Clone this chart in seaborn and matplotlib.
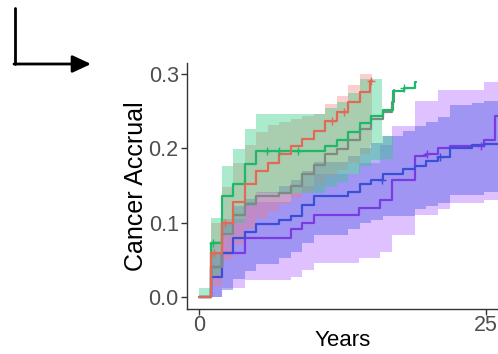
import numpy as np
import matplotlib
matplotlib.use("Agg")
import matplotlib.pyplot as plt
from matplotlib.lines import Line2D
from matplotlib.patches import FancyArrowPatch
import seaborn as sns

# ---------------- data ----------------
red_t = [0, 1, 2, 3, 4, 5, 6, 7, 8, 9, 10, 11, 12, 13, 14, 14.9, 15.05]
red_est = [0, 0.060, 0.100, 0.128, 0.152, 0.170, 0.181, 0.192, 0.203, 0.213, 0.224, 0.237, 0.249, 0.262, 0.276, 0.291, 0.291]
red_lo = [0, 0.015, 0.050, 0.072, 0.092, 0.106, 0.116, 0.125, 0.134, 0.142, 0.151, 0.161, 0.171, 0.181, 0.192, 0.205, 0.205]
red_hi = [0, 0.100, 0.148, 0.180, 0.205, 0.222, 0.232, 0.236, 0.240, 0.244, 0.246, 0.260, 0.271, 0.285, 0.300, 0.300, 0.300]
red_cens = [1.3, 2.3, 11.6, 12.6, 14.95]

green_t = [0, 1, 2, 3, 4, 5, 11, 12, 13, 14, 15, 16, 16.9, 17.9, 18.8, 18.9]
green_est = [0, 0.073, 0.136, 0.152, 0.179, 0.196, 0.203, 0.211, 0.222, 0.234, 0.244, 0.252, 0.277, 0.281, 0.290, 0.290]
green_band_t = [0, 1, 2, 3, 4, 5, 11, 12, 13, 14, 15, 15.9, 16.9]
green_lo = [0, 0.030, 0.085, 0.100, 0.122, 0.140, 0.148, 0.155, 0.165, 0.176, 0.185, 0.186, 0.186]
green_hi = [0.012, 0.106, 0.176, 0.199, 0.226, 0.246, 0.255, 0.262, 0.275, 0.294, 0.294, 0.217, 0.217]
green_cens = [1.2, 5.9, 7.0, 8.6, 17.9]

gray_t = [0, 1, 2, 3, 4, 5, 7, 8, 9, 10, 11, 12, 13, 14, 15, 16, 16.8, 17.0]
gray_est = [0, 0.041, 0.085, 0.110, 0.125, 0.136, 0.140, 0.150, 0.165, 0.178, 0.192, 0.199, 0.212, 0.226, 0.240, 0.249, 0.262, 0.278]

blue_t = [0, 1, 2, 3, 4, 5, 7, 8, 9, 10, 13, 14, 15, 16, 17.8, 18.8, 19.8, 20.8, 21.9, 23.75, 24.8, 26.5]
blue_est = [0, 0.027, 0.059, 0.079, 0.088, 0.098, 0.104, 0.109, 0.124, 0.136, 0.142, 0.152, 0.158, 0.165, 0.172, 0.177, 0.183, 0.188, 0.201, 0.204, 0.206, 0.206]
blue_lo = [0, 0.0, 0.010, 0.025, 0.035, 0.045, 0.052, 0.061, 0.073, 0.084, 0.091, 0.100, 0.104, 0.109, 0.109, 0.118, 0.122, 0.127, 0.138, 0.138, 0.142, 0.142]
blue_hi = [0, 0.060, 0.100, 0.122, 0.132, 0.142, 0.150, 0.158, 0.170, 0.182, 0.190, 0.200, 0.207, 0.217, 0.224, 0.230, 0.235, 0.242, 0.258, 0.261, 0.264, 0.264]
blue_cens = [15.9, 21.0]

purple_t = [0, 1, 2, 4, 8, 9, 10, 13.9, 15.8, 16.8, 18.8, 19.8, 20.8, 21.9, 24.8, 25.8, 26.5]
purple_est = [0, 0.041, 0.059, 0.080, 0.091, 0.100, 0.111, 0.120, 0.131, 0.158, 0.190, 0.192, 0.200, 0.203, 0.212, 0.244, 0.244]
purple_lo = [0, 0.0, 0.012, 0.023, 0.027, 0.036, 0.046, 0.052, 0.061, 0.084, 0.111, 0.111, 0.118, 0.127, 0.131, 0.131, 0.131]
purple_hi = [0, 0.075, 0.105, 0.128, 0.140, 0.150, 0.165, 0.180, 0.205, 0.230, 0.264, 0.264, 0.278, 0.278, 0.289, 0.289, 0.289]
purple_cens = [19.9, 24.6]

x_ticks = [0, 25]
y_ticks = [0.0, 0.1, 0.2, 0.3]
x_label = "Years"
y_label = "Cancer Accrual"

# ---------------- style ----------------
sns.set_theme(style="white")
plt.rcParams["font.family"] = ["Liberation Sans", "DejaVu Sans"]

fig = plt.figure(figsize=(4.98, 3.54), dpi=100)
ax = fig.add_axes([187 / 498, 45 / 354, 1 - 187 / 498, (309 - 63) / 354])

bands = [
    (purple_t, purple_lo, purple_hi, "#B266FF", 0.40),
    (blue_t, blue_lo, blue_hi, "#5560E8", 0.45),
    (red_t, red_lo, red_hi, "#F87878", 0.35),
    (green_band_t, green_lo, green_hi, "#2ECC80", 0.40),
]
for t, lo, hi, c, a in bands:
    ax.fill_between(t, lo, hi, step="post", color=c, alpha=a, lw=0)

lines = [
    (purple_t, purple_est, "#7A3CE0", purple_cens),
    (blue_t, blue_est, "#3A4FD6", blue_cens),
    (gray_t, gray_est, "#7E8A82", []),
    (green_t, green_est, "#1FB868", green_cens),
    (red_t, red_est, "#E06A55", red_cens),
]
for t, e, c, cens in lines:
    sns.lineplot(x=t, y=e, ax=ax, color=c, lw=1.6, drawstyle="steps-post",
                 estimator=None, sort=False)
    if cens:
        ta = np.asarray(t)
        ea = np.asarray(e)
        idx = np.searchsorted(ta, cens, side="right") - 1
        sns.scatterplot(x=cens, y=ea[idx], ax=ax, marker="+", s=40,
                        color=c, linewidth=1.0, zorder=5)

ax.set_xlim(-1.05, 26.05)
ax.set_ylim(-0.016, 0.315)
ax.set_xticks(x_ticks)
ax.set_yticks(y_ticks)
ax.set_yticklabels([f"{v:.1f}" for v in y_ticks])
ax.tick_params(axis="both", labelsize=15.5, labelcolor="#4D4D4D", length=4,
               width=1, color="#333333", direction="out", bottom=True, left=True, pad=2)
ax.tick_params(axis="x", pad=0)
for s in ["top", "right"]:
    ax.spines[s].set_visible(False)
for s in ["left", "bottom"]:
    ax.spines[s].set_color("#333333")
    ax.spines[s].set_linewidth(1.0)
ax.set_xlabel(x_label, fontsize=16, color="black", labelpad=-4)
ax.set_ylabel(y_label, fontsize=18, color="black", labelpad=0)

# arrow in the top-left corner
fig.add_artist(Line2D([15 / 498, 15 / 498], [1 - 8 / 354, 1 - 64 / 354],
                      transform=fig.transFigure, color="black", lw=2))
fig.add_artist(FancyArrowPatch((14 / 498, 1 - 64 / 354), (91 / 498, 1 - 64 / 354),
                               transform=fig.transFigure, shrinkA=0, shrinkB=0,
                               arrowstyle="-|>,head_length=0.75,head_width=0.35",
                               mutation_scale=15, color="black", lw=2))

fig.savefig("out.png", dpi=100)
